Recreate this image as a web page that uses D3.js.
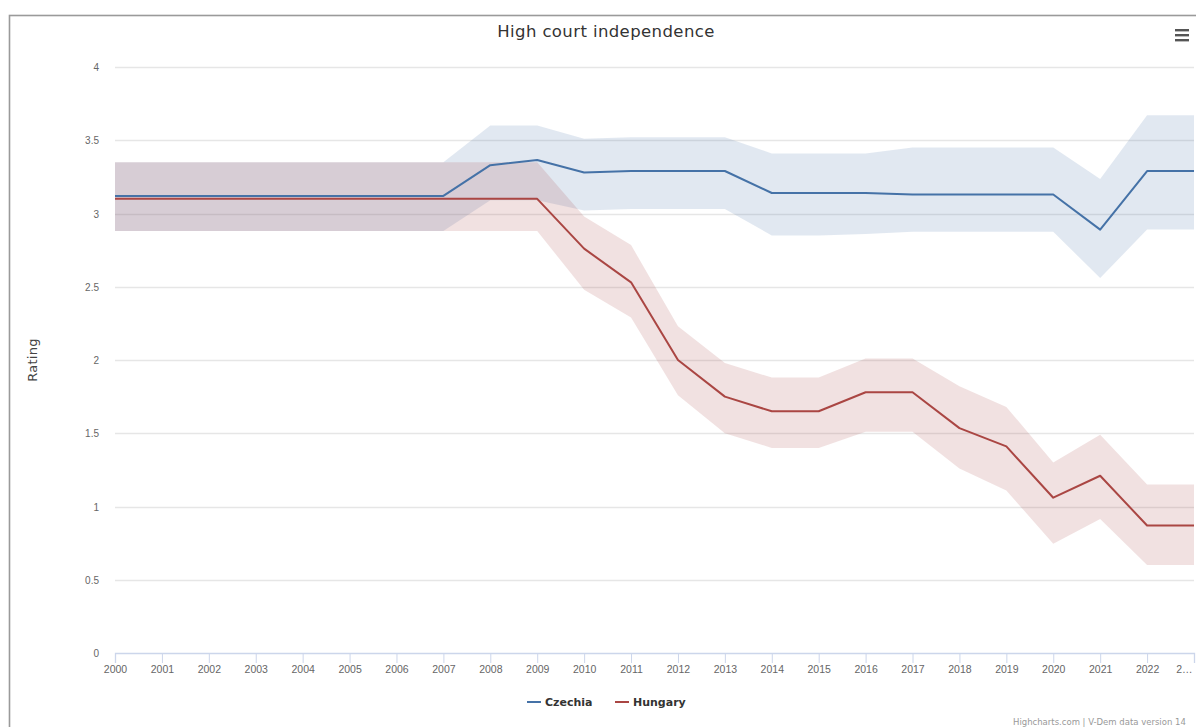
<!DOCTYPE html>
<html>
<head>
<meta charset="utf-8">
<script src="https://cdn.jsdelivr.net/npm/d3@7"></script>
<style>
	html, body { margin: 0; padding: 0; background: #fff; overflow: hidden; }
	svg { display: block; font-family: "DejaVu Sans", Verdana, sans-serif; }
</style>
</head>
<body>
<div id="chart"></div>
<script>
////////////////////////////////////////
// data
////////////////////////////////////////

var years = [2000, 2001, 2002, 2003, 2004, 2005, 2006, 2007, 2008, 2009, 2010, 2011,
	2012, 2013, 2014, 2015, 2016, 2017, 2018, 2019, 2020, 2021, 2022, 2023];

var czechia     = [3.12, 3.12, 3.12, 3.12, 3.12, 3.12, 3.12, 3.12, 3.33, 3.365, 3.28, 3.29,
	3.29, 3.29, 3.14, 3.14, 3.14, 3.13, 3.13, 3.13, 3.13, 2.89, 3.29, 3.29];
var czechiaHigh = [3.35, 3.35, 3.35, 3.35, 3.35, 3.35, 3.35, 3.35, 3.60, 3.60, 3.51, 3.52,
	3.52, 3.52, 3.41, 3.41, 3.41, 3.45, 3.45, 3.45, 3.45, 3.235, 3.67, 3.67];
var czechiaLow  = [2.88, 2.88, 2.88, 2.88, 2.88, 2.88, 2.88, 2.88, 3.09, 3.09, 3.02, 3.03,
	3.03, 3.03, 2.85, 2.85, 2.86, 2.875, 2.875, 2.875, 2.875, 2.56, 2.89, 2.89];

var hungary     = [3.10, 3.10, 3.10, 3.10, 3.10, 3.10, 3.10, 3.10, 3.10, 3.10, 2.76, 2.53,
	2.00, 1.75, 1.65, 1.65, 1.78, 1.78, 1.535, 1.41, 1.06, 1.21, 0.87, 0.87];
var hungaryHigh = [3.35, 3.35, 3.35, 3.35, 3.35, 3.35, 3.35, 3.35, 3.35, 3.35, 2.98, 2.785,
	2.23, 1.98, 1.88, 1.88, 2.01, 2.01, 1.82, 1.68, 1.30, 1.49, 1.15, 1.15];
var hungaryLow  = [2.88, 2.88, 2.88, 2.88, 2.88, 2.88, 2.88, 2.88, 2.88, 2.88, 2.48, 2.29,
	1.76, 1.50, 1.40, 1.40, 1.51, 1.51, 1.26, 1.11, 0.745, 0.915, 0.60, 0.60];

var yTicks = [0, 0.5, 1, 1.5, 2, 2.5, 3, 3.5, 4];
var yTickLabels = ["0", "0.5", "1", "1.5", "2", "2.5", "3", "3.5", "4"];
var xTickLabels = ["2000", "2001", "2002", "2003", "2004", "2005", "2006", "2007", "2008",
	"2009", "2010", "2011", "2012", "2013", "2014", "2015", "2016", "2017", "2018", "2019",
	"2020", "2021", "2022", "2\u2026"];

var seriesNames = ["Czechia", "Hungary"];
var seriesColors = ["#4572A7", "#AA4643"];

////////////////////////////////////////

var width = 1196, height = 727;
var plotLeft = 115, plotRight = 1194, plotTop = 67, plotBottom = 653;

var svg = d3.select("#chart").append("svg")
	.attr("width", width)
	.attr("height", height);

// outer frame, cut off on the right and bottom like the screenshot
svg.append("rect")
	.attr("x", 9.5).attr("y", 15.5)
	.attr("width", 1300).attr("height", 800)
	.attr("fill", "#fff")
	.attr("stroke", "#9a9a9a")
	.attr("stroke-width", 1.6);

var x = d3.scaleLinear().domain([2000, 2023]).range([plotLeft, plotRight]);
var y = d3.scaleLinear().domain([0, 4]).range([plotBottom, plotTop]);

// grid
svg.append("g").selectAll("line")
	.data(yTicks.filter(function(d) { return d > 0; }))
	.enter().append("line")
	.attr("x1", plotLeft).attr("x2", plotRight)
	.attr("y1", function(d) { return Math.round(y(d)) + 0.5; })
	.attr("y2", function(d) { return Math.round(y(d)) + 0.5; })
	.attr("stroke", "#e6e6e6")
	.attr("stroke-width", 1.3);

////////////////////////////////////////
// bands + lines

var series = [
	{name: seriesNames[0], color: seriesColors[0], mid: czechia, lo: czechiaLow, hi: czechiaHigh},
	{name: seriesNames[1], color: seriesColors[1], mid: hungary, lo: hungaryLow, hi: hungaryHigh}
];

var area = d3.area()
	.x(function(d) { return x(d.year); })
	.y0(function(d) { return y(d.lo); })
	.y1(function(d) { return y(d.hi); });

var line = d3.line()
	.x(function(d) { return x(d.year); })
	.y(function(d) { return y(d.v); });

series.forEach(function(s) {
	var pts = years.map(function(yr, i) { return {year: yr, lo: s.lo[i], hi: s.hi[i], v: s.mid[i]}; });
	svg.append("path")
		.datum(pts)
		.attr("d", area)
		.attr("fill", s.color)
		.attr("fill-opacity", 0.16);
});

series.forEach(function(s) {
	var pts = years.map(function(yr, i) { return {year: yr, v: s.mid[i]}; });
	svg.append("path")
		.datum(pts)
		.attr("d", line)
		.attr("fill", "none")
		.attr("stroke", s.color)
		.attr("stroke-width", 2)
		.attr("stroke-linejoin", "round");
});

////////////////////////////////////////
// axes

var xAxis = d3.axisBottom(x)
	.tickValues(years)
	.tickSize(10)
	.tickPadding(3)
	.tickFormat(function(d, i) { return xTickLabels[i]; });

var gx = svg.append("g")
	.attr("transform", "translate(0," + plotBottom + ")")
	.call(xAxis);
gx.select(".domain").attr("stroke", "#ccd6eb").attr("stroke-width", 1.3);
gx.selectAll(".tick line").attr("stroke", "#ccd6eb");
gx.selectAll(".tick text")
	.attr("fill", "#666")
	.style("font-size", "10.5px");
// last label is squeezed to fit like highcharts ellipsis
gx.selectAll(".tick text").filter(function(d) { return d === 2023; })
	.attr("text-anchor", "end")
	.attr("x", -2);

var yAxis = d3.axisLeft(y)
	.tickValues(yTicks)
	.tickSize(0)
	.tickPadding(plotLeft - 99)
	.tickFormat(function(d, i) { return yTickLabels[i]; });

var gy = svg.append("g")
	.attr("transform", "translate(" + plotLeft + ",0)")
	.call(yAxis);
gy.select(".domain").remove();
gy.selectAll(".tick text")
	.attr("fill", "#666")
	.attr("dy", "0.35em")
	.style("font-size", "10px");

svg.append("text")
	.attr("transform", "translate(37," + ((plotTop + plotBottom) / 2) + ") rotate(-90)")
	.attr("text-anchor", "middle")
	.attr("fill", "#444")
	.style("font-size", "13px")
	.style("letter-spacing", "0.3px")
	.text("Rating");

////////////////////////////////////////
// title, menu, legend, credits

svg.append("text")
	.attr("x", 606).attr("y", 37)
	.attr("text-anchor", "middle")
	.attr("fill", "#333")
	.style("font-size", "16.5px")
	.style("letter-spacing", "0.4px")
	.text("High court independence");

svg.append("g").selectAll("rect")
	.data([0, 1, 2])
	.enter().append("rect")
	.attr("x", 1175).attr("width", 14)
	.attr("y", function(d) { return 29 + d * 5; })
	.attr("height", 2.4)
	.attr("fill", "#555");

var legendX = [527, 615];
var legend = svg.append("g");
series.forEach(function(s, i) {
	legend.append("line")
		.attr("x1", legendX[i]).attr("x2", legendX[i] + 14)
		.attr("y1", 702).attr("y2", 702)
		.attr("stroke", s.color)
		.attr("stroke-width", 2);
	legend.append("text")
		.attr("x", legendX[i] + 18).attr("y", 706)
		.attr("fill", "#333")
		.style("font-size", "11px")
		.style("font-weight", "bold")
		.text(s.name);
});

svg.append("text")
	.attr("x", 1013).attr("y", 725)
	.attr("fill", "#999")
	.style("font-size", "8.5px")
	.text("Highcharts.com | V-Dem data version 14");
</script>
</body>
</html>
